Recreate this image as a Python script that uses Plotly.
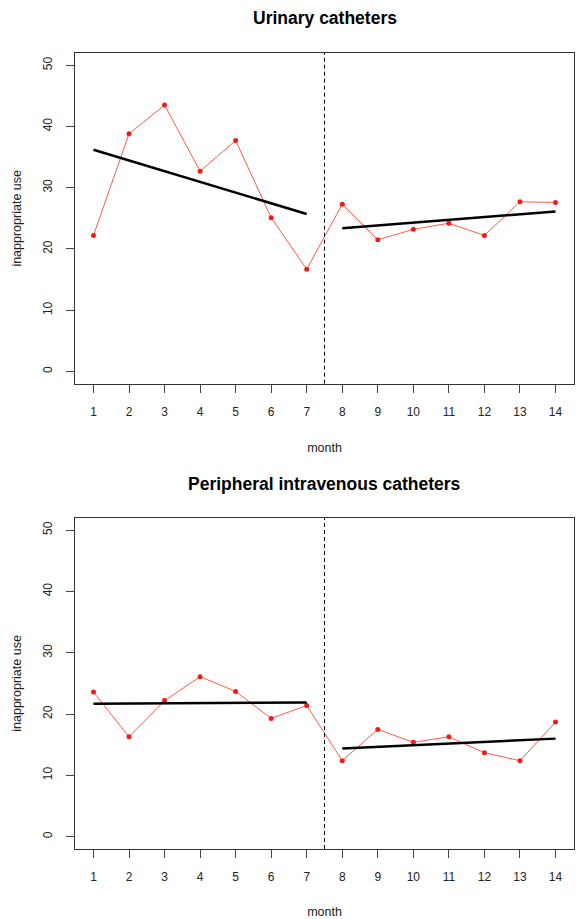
import plotly.graph_objects as go

months = list(range(1, 15))
urinary = [22.2, 38.8, 43.5, 32.7, 37.7, 25.1, 16.7, 27.3, 21.5, 23.2, 24.2, 22.2, 27.7, 27.6]
urinary_trend_pre = [36.2, 25.7]
urinary_trend_post = [23.4, 26.1]
piv = [23.6, 16.3, 22.2, 26.1, 23.7, 19.3, 21.4, 12.4, 17.5, 15.4, 16.3, 13.7, 12.4, 18.7]
piv_trend_pre = [21.7, 21.9]
piv_trend_post = [14.4, 16.0]
pre_x = [1, 7]
post_x = [8, 14]
break_x = 7.5
titles = ["Urinary catheters", "Peripheral intravenous catheters"]
yticks = [0, 10, 20, 30, 40, 50]

FONT = "Liberation Sans, Arial, sans-serif"
fig = go.Figure()

panels = [(urinary, urinary_trend_pre, urinary_trend_post, "x", "y"),
          (piv, piv_trend_pre, piv_trend_post, "x2", "y2")]
for vals, tpre, tpost, xa, ya in panels:
    fig.add_trace(go.Scatter(x=months, y=vals, mode="lines", line=dict(color="#FF5A46", width=1),
                             xaxis=xa, yaxis=ya, showlegend=False))
    fig.add_trace(go.Scatter(x=months, y=vals, mode="markers", marker=dict(color="#EE1C1C", size=5),
                             xaxis=xa, yaxis=ya, showlegend=False))
    fig.add_trace(go.Scatter(x=pre_x, y=tpre, mode="lines", line=dict(color="black", width=2.5),
                             xaxis=xa, yaxis=ya, showlegend=False))
    fig.add_trace(go.Scatter(x=post_x, y=tpost, mode="lines", line=dict(color="black", width=2.5),
                             xaxis=xa, yaxis=ya, showlegend=False))
    fig.add_shape(type="line", x0=break_x, x1=break_x, y0=0, y1=1, xref=xa, yref=ya + " domain",
                  line=dict(color="black", width=1, dash="4px,3px"))

common_x = dict(range=[0.48, 14.52], tickvals=months, ticks="outside", ticklen=8, tickcolor="#444",
                showline=True, linecolor="#333", linewidth=1, mirror=True, showgrid=False, zeroline=False,
                ticklabelstandoff=9,
                tickfont=dict(size=12, color="#222", family=FONT),
                title=dict(text="month", font=dict(size=12.5, color="#222", family=FONT), standoff=25))
common_y = dict(range=[-2, 52], tickvals=yticks, ticks="outside", ticklen=8, tickcolor="#444",
                showline=True, linecolor="#333", linewidth=1, mirror=True, showgrid=False, zeroline=False,
                ticklabelstandoff=9,
                tickangle=-90, tickfont=dict(size=12, color="#222", family=FONT),
                title=dict(text="inappropriate use", font=dict(size=12.5, color="#222", family=FONT), standoff=16))

fig.update_layout(
    width=576, height=919,
    margin=dict(l=75, r=1, t=53, b=68),
    paper_bgcolor="white", plot_bgcolor="white",
    xaxis=dict(domain=[0, 1], anchor="y", **common_x),
    yaxis=dict(domain=[0.5846, 1], anchor="x", **common_y),
    xaxis2=dict(domain=[0, 1], anchor="y2", **common_x),
    yaxis2=dict(domain=[0, 0.416], anchor="x2", **common_y),
    annotations=[
        dict(text="<b>" + titles[0] + "</b>", x=0.5, y=1.044, xref="paper", yref="paper",
             showarrow=False, xanchor="center", yanchor="middle",
             font=dict(size=17.5, color="black", family=FONT)),
        dict(text="<b>" + titles[1] + "</b>", x=0.5, y=0.4586, xref="paper", yref="paper",
             showarrow=False, xanchor="center", yanchor="middle",
             font=dict(size=17.5, color="black", family=FONT)),
    ],
)

fig.write_html("out.html", config={"displayModeBar": False},
               post_script="document.body.style.margin='0';document.body.style.overflow='hidden';")
